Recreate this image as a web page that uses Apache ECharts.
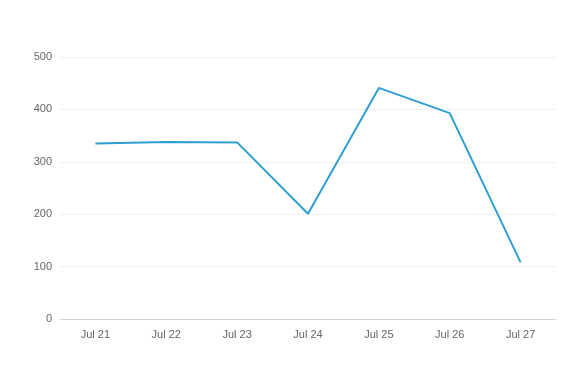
<!DOCTYPE html>
<html><head><meta charset="utf-8">
<script src="https://cdn.jsdelivr.net/npm/echarts@6/dist/echarts.min.js"></script>
<style>html,body{margin:0;padding:0;background:#fff}#c{width:570px;height:365px}</style>
</head><body><div id="c"></div>
<script>
const categories = ['Jul 21','Jul 22','Jul 23','Jul 24','Jul 25','Jul 26','Jul 27'];
const values = [335, 338, 337, 201, 441, 393, 108];
const chart = echarts.init(document.getElementById('c'));
chart.setOption({
  animation: false,
  grid: {left: 60, right: 14, top: 57, bottom: 46},
  xAxis: {
    type: 'category', data: categories, boundaryGap: true,
    axisLine: {lineStyle: {color: '#d0d0d0'}},
    axisTick: {alignWithLabel: true, length: 4, lineStyle: {color: '#d0d0d0'}},
    axisLabel: {color: '#666', fontSize: 11, margin: 10, fontFamily: 'Arial, Liberation Sans, sans-serif'}
  },
  yAxis: {
    type: 'value', min: 0, max: 500, interval: 100,
    axisLine: {show: false}, axisTick: {show: false},
    splitLine: {lineStyle: {color: '#f0f0f0'}},
    axisLabel: {color: '#666', fontSize: 11, margin: 8, fontFamily: 'Arial, Liberation Sans, sans-serif'}
  },
  series: [{
    type: 'line', data: values, showSymbol: false, symbol: 'none',
    lineStyle: {color: '#2f9fd2', width: 2}
  }]
});
</script></body></html>
